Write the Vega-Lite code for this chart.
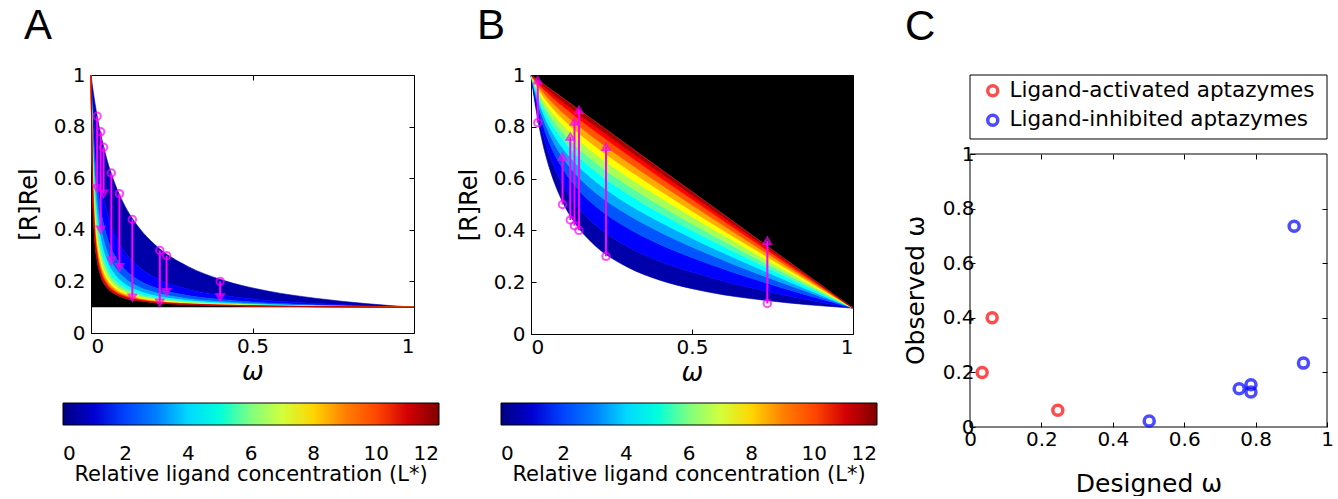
{
"$schema":"https://vega.github.io/schema/vega-lite/v6.json",
"autosize":{"type":"pad"},
"padding":{"left":16,"top":4,"right":0,"bottom":0},
"background":"white",
"datasets":{
"A":[
{"w":0,"c0":1,"c1":1,"c2":1,"c3":1,"c4":1,"c5":1,"c6":1,"c7":1,"c8":1,"c9":1,"c10":1,"c11":1,"c12":1},
{"w":0.005,"c0":0.953,"c1":0.891,"c2":0.837,"c3":0.79,"c4":0.749,"c5":0.712,"c6":0.68,"c7":0.65,"c8":0.624,"c9":0.6,"c10":0.578,"c11":0.557,"c12":0.539},
{"w":0.01,"c0":0.91,"c1":0.804,"c2":0.723,"c3":0.659,"c4":0.606,"c5":0.563,"c6":0.526,"c7":0.495,"c8":0.468,"c9":0.445,"c10":0.424,"c11":0.406,"c12":0.389},
{"w":0.02,"c0":0.835,"c1":0.676,"c2":0.574,"c3":0.503,"c4":0.45,"c5":0.409,"c6":0.377,"c7":0.351,"c8":0.33,"c9":0.312,"c10":0.296,"c11":0.283,"c12":0.271},
{"w":0.03,"c0":0.772,"c1":0.586,"c2":0.481,"c3":0.413,"c4":0.366,"c5":0.331,"c6":0.304,"c7":0.283,"c8":0.266,"c9":0.252,"c10":0.24,"c11":0.229,"c12":0.221},
{"w":0.05,"c0":0.67,"c1":0.468,"c2":0.371,"c3":0.315,"c4":0.278,"c5":0.252,"c6":0.233,"c7":0.218,"c8":0.206,"c9":0.196,"c10":0.188,"c11":0.181,"c12":0.175},
{"w":0.075,"c0":0.576,"c1":0.379,"c2":0.297,"c3":0.252,"c4":0.224,"c5":0.205,"c6":0.191,"c7":0.18,"c8":0.171,"c9":0.165,"c10":0.159,"c11":0.154,"c12":0.15},
{"w":0.1,"c0":0.505,"c1":0.322,"c2":0.253,"c3":0.217,"c4":0.194,"c5":0.179,"c6":0.168,"c7":0.16,"c8":0.153,"c9":0.148,"c10":0.144,"c11":0.14,"c12":0.137},
{"w":0.15,"c0":0.406,"c1":0.254,"c2":0.203,"c3":0.177,"c4":0.162,"c5":0.151,"c6":0.144,"c7":0.139,"c8":0.134,"c9":0.131,"c10":0.128,"c11":0.126,"c12":0.124},
{"w":0.2,"c0":0.34,"c1":0.214,"c2":0.175,"c3":0.156,"c4":0.144,"c5":0.137,"c6":0.132,"c7":0.128,"c8":0.124,"c9":0.122,"c10":0.12,"c11":0.118,"c12":0.117},
{"w":0.3,"c0":0.258,"c1":0.17,"c2":0.145,"c3":0.133,"c4":0.126,"c5":0.122,"c6":0.119,"c7":0.116,"c8":0.114,"c9":0.113,"c10":0.112,"c11":0.111,"c12":0.11},
{"w":0.4,"c0":0.208,"c1":0.147,"c2":0.13,"c3":0.122,"c4":0.117,"c5":0.114,"c6":0.112,"c7":0.111,"c8":0.109,"c9":0.108,"c10":0.108,"c11":0.107,"c12":0.106},
{"w":0.55,"c0":0.162,"c1":0.126,"c2":0.116,"c3":0.112,"c4":0.109,"c5":0.108,"c6":0.107,"c7":0.106,"c8":0.105,"c9":0.105,"c10":0.104,"c11":0.104,"c12":0.1035},
{"w":0.7,"c0":0.134,"c1":0.114,"c2":0.109,"c3":0.106,"c4":0.105,"c5":0.104,"c6":0.1035,"c7":0.103,"c8":0.1027,"c9":0.1024,"c10":0.1022,"c11":0.102,"c12":0.1018},
{"w":0.85,"c0":0.114,"c1":0.1057,"c2":0.1036,"c3":0.1026,"c4":0.1021,"c5":0.1017,"c6":0.1014,"c7":0.1013,"c8":0.1011,"c9":0.101,"c10":0.1009,"c11":0.1008,"c12":0.1008},
{"w":1,"c0":0.1,"c1":0.1,"c2":0.1,"c3":0.1,"c4":0.1,"c5":0.1,"c6":0.1,"c7":0.1,"c8":0.1,"c9":0.1,"c10":0.1,"c11":0.1,"c12":0.1}
],
"B":[
{"w":0,"c0":1,"c1":1,"c2":1,"c3":1,"c4":1,"c5":1,"c6":1,"c7":1,"c8":1,"c9":1,"c10":1,"c11":1,"c12":1},
{"w":0.01,"c0":0.91,"c1":0.924,"c2":0.936,"c3":0.945,"c4":0.952,"c5":0.959,"c6":0.964,"c7":0.97,"c8":0.975,"c9":0.98,"c10":0.985,"c11":0.988,"c12":0.991},
{"w":0.02,"c0":0.835,"c1":0.86,"c2":0.882,"c3":0.898,"c4":0.911,"c5":0.923,"c6":0.934,"c7":0.944,"c8":0.953,"c9":0.961,"c10":0.97,"c11":0.976,"c12":0.982},
{"w":0.035,"c0":0.743,"c1":0.781,"c2":0.815,"c3":0.84,"c4":0.86,"c5":0.878,"c6":0.894,"c7":0.91,"c8":0.923,"c9":0.937,"c10":0.95,"c11":0.96,"c12":0.969},
{"w":0.05,"c0":0.67,"c1":0.718,"c2":0.761,"c3":0.793,"c4":0.818,"c5":0.841,"c6":0.861,"c7":0.881,"c8":0.898,"c9":0.915,"c10":0.932,"c11":0.944,"c12":0.955},
{"w":0.075,"c0":0.576,"c1":0.636,"c2":0.69,"c3":0.729,"c4":0.761,"c5":0.79,"c6":0.815,"c7":0.84,"c8":0.861,"c9":0.882,"c10":0.904,"c11":0.918,"c12":0.933},
{"w":0.1,"c0":0.505,"c1":0.574,"c2":0.635,"c3":0.679,"c4":0.716,"c5":0.748,"c6":0.776,"c7":0.805,"c8":0.829,"c9":0.853,"c10":0.878,"c11":0.894,"c12":0.91},
{"w":0.15,"c0":0.406,"c1":0.484,"c2":0.553,"c3":0.603,"c4":0.645,"c5":0.681,"c6":0.714,"c7":0.746,"c8":0.773,"c9":0.801,"c10":0.828,"c11":0.847,"c12":0.865},
{"w":0.2,"c0":0.34,"c1":0.422,"c2":0.494,"c3":0.546,"c4":0.59,"c5":0.628,"c6":0.662,"c7":0.695,"c8":0.724,"c9":0.753,"c10":0.782,"c11":0.801,"c12":0.82},
{"w":0.3,"c0":0.258,"c1":0.338,"c2":0.409,"c3":0.461,"c4":0.503,"c5":0.541,"c6":0.574,"c7":0.607,"c8":0.636,"c9":0.664,"c10":0.692,"c11":0.711,"c12":0.73},
{"w":0.4,"c0":0.208,"c1":0.281,"c2":0.346,"c3":0.394,"c4":0.433,"c5":0.467,"c6":0.497,"c7":0.528,"c8":0.554,"c9":0.58,"c10":0.605,"c11":0.623,"c12":0.64},
{"w":0.5,"c0":0.175,"c1":0.239,"c2":0.295,"c3":0.336,"c4":0.37,"c5":0.4,"c6":0.426,"c7":0.453,"c8":0.475,"c9":0.498,"c10":0.52,"c11":0.535,"c12":0.55},
{"w":0.6,"c0":0.151,"c1":0.204,"c2":0.25,"c3":0.284,"c4":0.312,"c5":0.337,"c6":0.358,"c7":0.38,"c8":0.398,"c9":0.417,"c10":0.435,"c11":0.448,"c12":0.46},
{"w":0.7,"c0":0.134,"c1":0.174,"c2":0.209,"c3":0.235,"c4":0.257,"c5":0.276,"c6":0.292,"c7":0.309,"c8":0.323,"c9":0.337,"c10":0.351,"c11":0.361,"c12":0.37},
{"w":0.8,"c0":0.12,"c1":0.147,"c2":0.171,"c3":0.189,"c4":0.203,"c5":0.216,"c6":0.227,"c7":0.238,"c8":0.248,"c9":0.258,"c10":0.267,"c11":0.274,"c12":0.28},
{"w":0.9,"c0":0.109,"c1":0.123,"c2":0.135,"c3":0.144,"c4":0.151,"c5":0.158,"c6":0.163,"c7":0.169,"c8":0.174,"c9":0.179,"c10":0.184,"c11":0.187,"c12":0.19},
{"w":1,"c0":0.1,"c1":0.1,"c2":0.1,"c3":0.1,"c4":0.1,"c5":0.1,"c6":0.1,"c7":0.1,"c8":0.1,"c9":0.1,"c10":0.1,"c11":0.1,"c12":0.1}
],
"arrA":[
{"w":0.019,"s":0.84,"e":0.56},{"w":0.03,"s":0.78,"e":0.4},{"w":0.039,"s":0.72,"e":0.54},{"w":0.063,"s":0.62,"e":0.28},{"w":0.088,"s":0.54,"e":0.255},{"w":0.128,"s":0.44,"e":0.137},{"w":0.213,"s":0.32,"e":0.117},{"w":0.234,"s":0.3,"e":0.158},{"w":0.4,"s":0.2,"e":0.138}
],
"arrB":[
{"w":0.021,"s":0.816,"e":0.98},{"w":0.098,"s":0.5,"e":0.685},{"w":0.122,"s":0.44,"e":0.762},{"w":0.135,"s":0.418,"e":0.82},{"w":0.149,"s":0.4,"e":0.865},{"w":0.233,"s":0.3,"e":0.723},{"w":0.734,"s":0.118,"e":0.36}
],
"C":[
{"d":0.034,"o":0.2,"type":"Ligand-activated aptazymes"},
{"d":0.062,"o":0.4,"type":"Ligand-activated aptazymes"},
{"d":0.246,"o":0.061,"type":"Ligand-activated aptazymes"},
{"d":0.502,"o":0.022,"type":"Ligand-inhibited aptazymes"},
{"d":0.754,"o":0.14,"type":"Ligand-inhibited aptazymes"},
{"d":0.787,"o":0.155,"type":"Ligand-inhibited aptazymes"},
{"d":0.787,"o":0.128,"type":"Ligand-inhibited aptazymes"},
{"d":0.908,"o":0.735,"type":"Ligand-inhibited aptazymes"},
{"d":0.934,"o":0.234,"type":"Ligand-inhibited aptazymes"}
],
"boxes":[{"x0":0,"x1":1,"y0":0,"y1":1},{"x0":0,"x1":1,"y0":1.055,"y1":1.2894}],
"cbar":[{"lo":0},{"lo":12}]
},
"config":{
"font":"DejaVu Sans",
"view":{"stroke":"black","strokeWidth":1},
"axis":{"labelFont":"DejaVu Sans","labelFontSize":20,"labelColor":"black","titleFont":"DejaVu Sans","titleColor":"black","titleFontWeight":"normal","tickColor":"black","tickWidth":1,"domain":false,"grid":false},
"legend":{"labelFont":"DejaVu Sans","labelColor":"black","titleFont":"DejaVu Sans","titleColor":"black","titleFontWeight":"normal","gradientHorizontalMaxLength":400,"gradientHorizontalMinLength":100},
"title":{"font":"Liberation Sans","fontSize":42,"fontWeight":"normal","color":"black"}
},
"resolve":{"scale":{"color":"independent"},"legend":{"color":"independent"}},
"hconcat":[
{"width":323,"height":258,
"title":{"text":"A","anchor":"start","frame":"group","baseline":"alphabetic","offset":-16,"dx":-67},
"layer":[
{"data":{"name":"A"},"layer":[
{"mark":{"type":"area","interpolate":"monotone","color":"black"},"encoding":{"x":{"field":"w","type":"quantitative","axis":null},"y":{"field":"c12","type":"quantitative","axis":null},"y2":{"datum":0.1}}},
{"mark":{"type":"area","interpolate":"monotone","color":"#0000AA","stroke":"#0000AA","strokeWidth":0.6},"encoding":{"x":{"field":"w","type":"quantitative","axis":null},"y":{"field":"c0","type":"quantitative","axis":null},"y2":{"field":"c1"}}},
{"mark":{"type":"area","interpolate":"monotone","color":"#0000FF","stroke":"#0000FF","strokeWidth":0.6},"encoding":{"x":{"field":"w","type":"quantitative","axis":null},"y":{"field":"c1","type":"quantitative","axis":null},"y2":{"field":"c2"}}},
{"mark":{"type":"area","interpolate":"monotone","color":"#0055FF","stroke":"#0055FF","strokeWidth":0.6},"encoding":{"x":{"field":"w","type":"quantitative","axis":null},"y":{"field":"c2","type":"quantitative","axis":null},"y2":{"field":"c3"}}},
{"mark":{"type":"area","interpolate":"monotone","color":"#00AAFF","stroke":"#00AAFF","strokeWidth":0.6},"encoding":{"x":{"field":"w","type":"quantitative","axis":null},"y":{"field":"c3","type":"quantitative","axis":null},"y2":{"field":"c4"}}},
{"mark":{"type":"area","interpolate":"monotone","color":"#00FFFF","stroke":"#00FFFF","strokeWidth":0.6},"encoding":{"x":{"field":"w","type":"quantitative","axis":null},"y":{"field":"c4","type":"quantitative","axis":null},"y2":{"field":"c5"}}},
{"mark":{"type":"area","interpolate":"monotone","color":"#55FFAA","stroke":"#55FFAA","strokeWidth":0.6},"encoding":{"x":{"field":"w","type":"quantitative","axis":null},"y":{"field":"c5","type":"quantitative","axis":null},"y2":{"field":"c6"}}},
{"mark":{"type":"area","interpolate":"monotone","color":"#AAFF55","stroke":"#AAFF55","strokeWidth":0.6},"encoding":{"x":{"field":"w","type":"quantitative","axis":null},"y":{"field":"c6","type":"quantitative","axis":null},"y2":{"field":"c7"}}},
{"mark":{"type":"area","interpolate":"monotone","color":"#FFFF00","stroke":"#FFFF00","strokeWidth":0.6},"encoding":{"x":{"field":"w","type":"quantitative","axis":null},"y":{"field":"c7","type":"quantitative","axis":null},"y2":{"field":"c8"}}},
{"mark":{"type":"area","interpolate":"monotone","color":"#FFAA00","stroke":"#FFAA00","strokeWidth":0.6},"encoding":{"x":{"field":"w","type":"quantitative","axis":null},"y":{"field":"c8","type":"quantitative","axis":null},"y2":{"field":"c9"}}},
{"mark":{"type":"area","interpolate":"monotone","color":"#FF5500","stroke":"#FF5500","strokeWidth":0.6},"encoding":{"x":{"field":"w","type":"quantitative","axis":null},"y":{"field":"c9","type":"quantitative","axis":null},"y2":{"field":"c10"}}},
{"mark":{"type":"area","interpolate":"monotone","color":"#FF0000","stroke":"#FF0000","strokeWidth":0.6},"encoding":{"x":{"field":"w","type":"quantitative","axis":null},"y":{"field":"c10","type":"quantitative","axis":null},"y2":{"field":"c11"}}},
{"mark":{"type":"area","interpolate":"monotone","color":"#AA0000","stroke":"#AA0000","strokeWidth":0.6},"encoding":{"x":{"field":"w","type":"quantitative","axis":null},"y":{"field":"c11","type":"quantitative","axis":null},"y2":{"field":"c12"}}}
]},
{"data":{"name":"arrA"},"mark":{"type":"rule","color":"#FF00FF","strokeWidth":2},"encoding":{
"x":{"field":"w","type":"quantitative","scale":{"domain":[0,1]},"axis":{"orient":"bottom","values":[0,0.5,1],"format":"~g","tickSize":-5,"labelPadding":8,"labelFlush":true,"title":"ω","titleFontStyle":"italic","titleFontSize":26,"titlePadding":2}},
"y":{"field":"s","type":"quantitative","scale":{"domain":[0,1]},"axis":{"orient":"left","values":[0,0.2,0.4,0.6,0.8,1],"format":"~g","tickSize":-5,"labelPadding":11,"title":"[R]Rel","titleFontSize":24,"titlePadding":12}},
"y2":{"field":"e"}}},
{"data":{"name":"arrA"},"mark":{"type":"point","shape":"circle","filled":false,"color":"#FF00FF","size":55,"strokeWidth":2,"clip":false},"encoding":{
"x":{"field":"w","type":"quantitative","axis":{"orient":"top","values":[0,0.5,1],"labels":false,"title":null,"tickSize":-5}},
"y":{"field":"s","type":"quantitative","axis":{"orient":"right","values":[0.2,0.4,0.6,0.8],"labels":false,"title":null,"tickSize":-5}}}},
{"data":{"name":"arrA"},"mark":{"type":"point","shape":"triangle-down","filled":false,"color":"#FF00FF","size":55,"strokeWidth":2,"clip":false},"encoding":{
"x":{"field":"w","type":"quantitative","axis":null},
"y":{"field":"e","type":"quantitative","axis":null}}},
{"data":{"name":"cbar"},"mark":{"type":"point","opacity":0},"encoding":{
"color":{"field":"lo","type":"quantitative","scale":{"domain":[0,1.5,3,4.5,6,7.5,9,10.5,12],"range":["#000080","#0000FF","#0080FF","#00FFFF","#80FF80","#FFFF00","#FF8000","#FF0000","#800000"]},
"legend":{"orient":"none","legendX":-28,"legendY":328,"direction":"horizontal","gradientLength":376,"gradientThickness":22,"gradientStrokeColor":"black","gradientStrokeWidth":1,"values":[0,2,4,6,8,10,12],"labelFontSize":20,"labelOffset":19,"labelAlign":"center","labelOverlap":false,"labelLimit":100,"title":"Relative ligand concentration (L*)","titleOrient":"bottom","titleFontSize":21,"titleAnchor":"middle","titlePadding":0,"titleLimit":600,"padding":0}}}}
],
"resolve":{"axis":{"x":"independent","y":"independent"}}},
{"width":322,"height":259,
"title":{"text":"B","anchor":"start","frame":"group","baseline":"alphabetic","offset":-16,"dx":-54},
"layer":[
{"data":{"name":"B"},"layer":[
{"mark":{"type":"area","interpolate":"monotone","color":"black"},"encoding":{"x":{"field":"w","type":"quantitative","axis":null},"y":{"field":"c12","type":"quantitative","axis":null},"y2":{"datum":1}}},
{"mark":{"type":"area","interpolate":"monotone","color":"#0000AA","stroke":"#0000AA","strokeWidth":0.6},"encoding":{"x":{"field":"w","type":"quantitative","axis":null},"y":{"field":"c0","type":"quantitative","axis":null},"y2":{"field":"c1"}}},
{"mark":{"type":"area","interpolate":"monotone","color":"#0000FF","stroke":"#0000FF","strokeWidth":0.6},"encoding":{"x":{"field":"w","type":"quantitative","axis":null},"y":{"field":"c1","type":"quantitative","axis":null},"y2":{"field":"c2"}}},
{"mark":{"type":"area","interpolate":"monotone","color":"#0055FF","stroke":"#0055FF","strokeWidth":0.6},"encoding":{"x":{"field":"w","type":"quantitative","axis":null},"y":{"field":"c2","type":"quantitative","axis":null},"y2":{"field":"c3"}}},
{"mark":{"type":"area","interpolate":"monotone","color":"#00AAFF","stroke":"#00AAFF","strokeWidth":0.6},"encoding":{"x":{"field":"w","type":"quantitative","axis":null},"y":{"field":"c3","type":"quantitative","axis":null},"y2":{"field":"c4"}}},
{"mark":{"type":"area","interpolate":"monotone","color":"#00FFFF","stroke":"#00FFFF","strokeWidth":0.6},"encoding":{"x":{"field":"w","type":"quantitative","axis":null},"y":{"field":"c4","type":"quantitative","axis":null},"y2":{"field":"c5"}}},
{"mark":{"type":"area","interpolate":"monotone","color":"#55FFAA","stroke":"#55FFAA","strokeWidth":0.6},"encoding":{"x":{"field":"w","type":"quantitative","axis":null},"y":{"field":"c5","type":"quantitative","axis":null},"y2":{"field":"c6"}}},
{"mark":{"type":"area","interpolate":"monotone","color":"#AAFF55","stroke":"#AAFF55","strokeWidth":0.6},"encoding":{"x":{"field":"w","type":"quantitative","axis":null},"y":{"field":"c6","type":"quantitative","axis":null},"y2":{"field":"c7"}}},
{"mark":{"type":"area","interpolate":"monotone","color":"#FFFF00","stroke":"#FFFF00","strokeWidth":0.6},"encoding":{"x":{"field":"w","type":"quantitative","axis":null},"y":{"field":"c7","type":"quantitative","axis":null},"y2":{"field":"c8"}}},
{"mark":{"type":"area","interpolate":"monotone","color":"#FFAA00","stroke":"#FFAA00","strokeWidth":0.6},"encoding":{"x":{"field":"w","type":"quantitative","axis":null},"y":{"field":"c8","type":"quantitative","axis":null},"y2":{"field":"c9"}}},
{"mark":{"type":"area","interpolate":"monotone","color":"#FF5500","stroke":"#FF5500","strokeWidth":0.6},"encoding":{"x":{"field":"w","type":"quantitative","axis":null},"y":{"field":"c9","type":"quantitative","axis":null},"y2":{"field":"c10"}}},
{"mark":{"type":"area","interpolate":"monotone","color":"#FF0000","stroke":"#FF0000","strokeWidth":0.6},"encoding":{"x":{"field":"w","type":"quantitative","axis":null},"y":{"field":"c10","type":"quantitative","axis":null},"y2":{"field":"c11"}}},
{"mark":{"type":"area","interpolate":"monotone","color":"#AA0000","stroke":"#AA0000","strokeWidth":0.6},"encoding":{"x":{"field":"w","type":"quantitative","axis":null},"y":{"field":"c11","type":"quantitative","axis":null},"y2":{"field":"c12"}}}
]},
{"data":{"name":"arrB"},"mark":{"type":"rule","color":"#FF00FF","strokeWidth":2},"encoding":{
"x":{"field":"w","type":"quantitative","scale":{"domain":[0,1]},"axis":{"orient":"bottom","values":[0,0.5,1],"format":"~g","tickSize":-5,"labelPadding":8,"labelFlush":true,"title":"ω","titleFontStyle":"italic","titleFontSize":26,"titlePadding":2}},
"y":{"field":"s","type":"quantitative","scale":{"domain":[0,1]},"axis":{"orient":"left","values":[0,0.2,0.4,0.6,0.8,1],"format":"~g","tickSize":-5,"labelPadding":11,"title":"[R]Rel","titleFontSize":24,"titlePadding":12}},
"y2":{"field":"e"}}},
{"data":{"name":"arrB"},"mark":{"type":"point","shape":"circle","filled":false,"color":"#FF00FF","size":55,"strokeWidth":2,"clip":false},"encoding":{
"x":{"field":"w","type":"quantitative","axis":{"orient":"top","values":[0,0.5,1],"labels":false,"title":null,"tickSize":-5}},
"y":{"field":"s","type":"quantitative","axis":{"orient":"right","values":[0.2,0.4,0.6,0.8],"labels":false,"title":null,"tickSize":-5}}}},
{"data":{"name":"arrB"},"mark":{"type":"point","shape":"triangle-up","filled":false,"color":"#FF00FF","size":55,"strokeWidth":2,"clip":false},"encoding":{
"x":{"field":"w","type":"quantitative","axis":null},
"y":{"field":"e","type":"quantitative","axis":null}}},
{"data":{"name":"cbar"},"mark":{"type":"point","opacity":0},"encoding":{
"color":{"field":"lo","type":"quantitative","scale":{"domain":[0,1.5,3,4.5,6,7.5,9,10.5,12],"range":["#000080","#0000FF","#0080FF","#00FFFF","#80FF80","#FFFF00","#FF8000","#FF0000","#800000"]},
"legend":{"orient":"none","legendX":-30,"legendY":328,"direction":"horizontal","gradientLength":376,"gradientThickness":22,"gradientStrokeColor":"black","gradientStrokeWidth":1,"values":[0,2,4,6,8,10,12],"labelFontSize":20,"labelOffset":19,"labelAlign":"center","labelOverlap":false,"labelLimit":100,"title":"Relative ligand concentration (L*)","titleOrient":"bottom","titleFontSize":21,"titleAnchor":"middle","titlePadding":0,"titleLimit":600,"padding":0}}}}
],
"resolve":{"axis":{"x":"independent","y":"independent"}}},
{"width":357,"height":352,"view":{"stroke":null},
"title":{"text":"C","anchor":"start","frame":"group","baseline":"alphabetic","offset":-7,"dx":-65},
"layer":[
{"data":{"name":"boxes"},"mark":{"type":"rect","filled":false,"color":"black","strokeWidth":1,"clip":false},"encoding":{
"x":{"field":"x0","type":"quantitative","scale":{"domain":[0,1],"nice":false},"axis":{"orient":"bottom","values":[0,0.2,0.4,0.6,0.8,1],"format":"~g","tickSize":-5,"labelPadding":7,"labelFlush":false,"title":"Designed ω","titleFontSize":25,"titlePadding":22}},
"x2":{"field":"x1"},
"y":{"field":"y0","type":"quantitative","scale":{"domain":[0,1.2894],"nice":false},"axis":{"orient":"left","values":[0,0.2,0.4,0.6,0.8,1],"format":"~g","tickSize":-5,"labelPadding":1,"title":"Observed ω","titleFontSize":25,"titlePadding":14,"titleY":215}},
"y2":{"field":"y1"}}},
{"data":{"name":"C"},"mark":{"type":"point","shape":"circle","filled":false,"size":100,"strokeWidth":3.5,"clip":false},"encoding":{
"x":{"field":"d","type":"quantitative","axis":{"orient":"top","values":[0.2,0.4,0.6,0.8],"labels":false,"title":null,"tickSize":-5,"offset":-79}},
"y":{"field":"o","type":"quantitative","axis":{"orient":"right","values":[0.2,0.4,0.6,0.8],"labels":false,"title":null,"tickSize":-5}},
"color":{"field":"type","type":"nominal","scale":{"domain":["Ligand-activated aptazymes","Ligand-inhibited aptazymes"],"range":["#FF0000","#0000FF"]},
"legend":{"orient":"none","legendX":12,"legendY":5,"title":null,"labelFontSize":21.5,"labelLimit":0,"symbolType":"circle","symbolSize":100,"symbolStrokeWidth":3.5,"labelOffset":6,"rowPadding":4.5,"padding":0}}}}
],
"resolve":{"axis":{"x":"independent","y":"independent"}}}
],
"spacing":117,
"bounds":"flush"
}
